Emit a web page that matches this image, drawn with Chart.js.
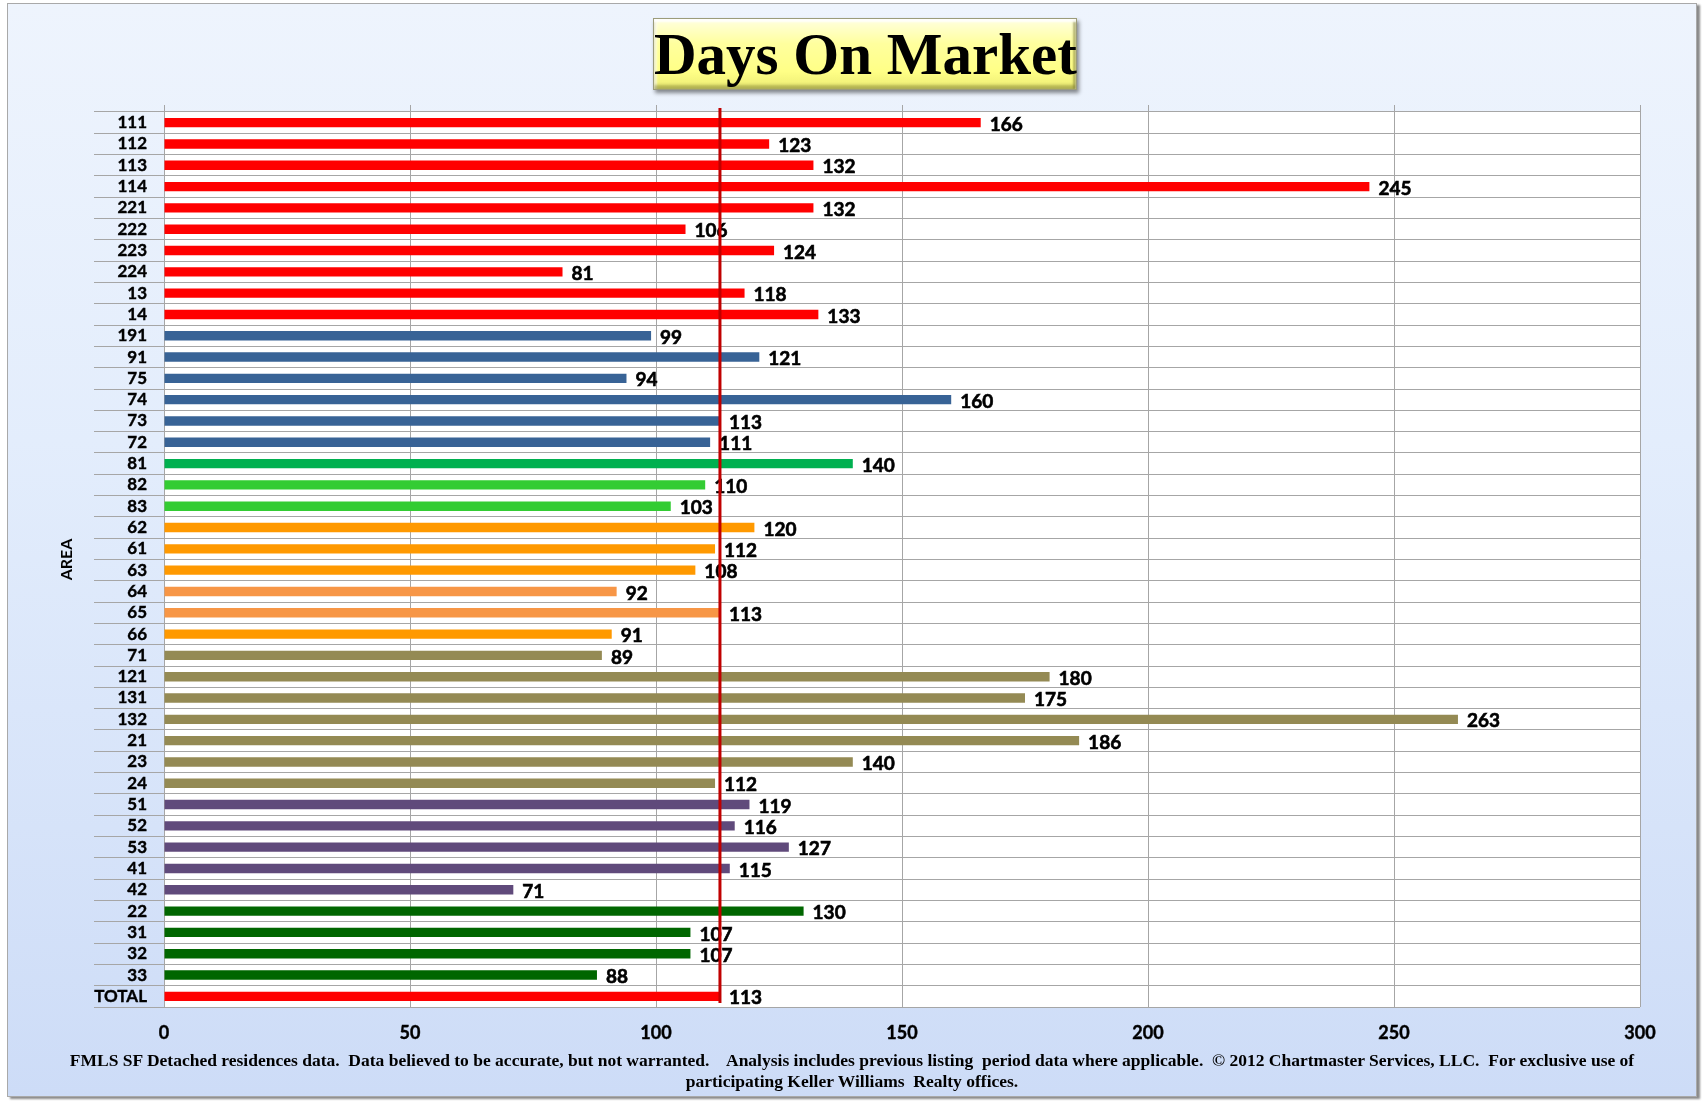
<!DOCTYPE html>
<html>
<head>
<meta charset="utf-8">
<title>Days On Market</title>
<script src="https://cdn.jsdelivr.net/npm/chart.js@4.4.1/dist/chart.umd.min.js"></script>
<style>
    body {
        margin: 0;
        width: 1706px;
        height: 1101px;
        background: #ffffff;
        overflow: hidden;
        position: relative;
        font-family: Lato, "Open Sans", sans-serif;
    }
    #marco {
        position: absolute;
        left: 7px;
        top: 3px;
        width: 1688px;
        height: 1092px;
        border: 1px solid #a9a9a9;
        background: linear-gradient(to bottom, #eef4fd 0%, #e3edfc 40%, #cddcf7 100%);
        box-shadow: 3px 2px 2px #8a8a8a;
    }
    #grafico {
        position: absolute;
        left: 0;
        top: 0;
    }
    #titulo {
        position: absolute;
        left: 653px;
        top: 18px;
        width: 422px;
        height: 70px;
        border: 1px solid #9c9c7a;
        background: linear-gradient(to bottom, #ffffe0 0%, #ffff9e 35%, #ffff86 75%, #ecec74 100%);
        box-shadow: 2px 3px 4px rgba(0, 0, 0, 0.45),
                    inset 0 3px 2px rgba(255, 255, 255, 0.9),
                    inset 0 -4px 3px rgba(110, 110, 40, 0.45),
                    inset 3px 0 2px rgba(255, 255, 255, 0.6),
                    inset -3px 0 2px rgba(110, 110, 40, 0.45);
        text-align: center;
        font: bold 59px "Liberation Serif", serif;
        line-height: 70px;
        color: #000;
        white-space: nowrap;
    }
    #nota {
        position: absolute;
        left: 7px;
        top: 1050px;
        width: 1690px;
        text-align: center;
        font: bold 17.5px "Liberation Serif", serif;
        line-height: 21px;
        color: #000;
        white-space: pre;
    }
</style>
</head>
<body>
<div id="marco"></div>
<canvas id="grafico" width="1706" height="1101"></canvas>
<div id="titulo">Days On Market</div>
<div id="nota">FMLS SF Detached residences data.  Data believed to be accurate, but not warranted.    Analysis includes previous listing  period data where applicable.  © 2012 Chartmaster Services, LLC.  For exclusive use of
participating Keller Williams  Realty offices.</div>

<script>
    // areas, de arriba hacia abajo
    const areas = [
        '111', '112', '113', '114', '221', '222', '223', '224', '13', '14',
        '191', '91', '75', '74', '73', '72',
        '81', '82', '83',
        '62', '61', '63', '64', '65', '66',
        '71', '121', '131', '132', '21', '23', '24',
        '51', '52', '53', '41', '42',
        '22', '31', '32', '33',
        'TOTAL'
    ];

    const diasEnMercado = [
        166, 123, 132, 245, 132, 106, 124, 81, 118, 133,
        99, 121, 94, 160, 113, 111,
        140, 110, 103,
        120, 112, 108, 92, 113, 91,
        89, 180, 175, 263, 186, 140, 112,
        119, 116, 127, 115, 71,
        130, 107, 107, 88,
        113
    ];

    const marcasEje = [0, 50, 100, 150, 200, 250, 300];

    const ROJO = '#ff0000';
    const AZUL = '#386396';
    const VERDE = '#00b050';
    const VERDE_CLARO = '#33cc33';
    const NARANJA = '#ff9900';
    const NARANJA_CLARO = '#f79646';
    const OLIVA = '#948a54';
    const MORADO = '#604a7b';
    const VERDE_OSCURO = '#006600';

    const coloresBarras = [
        ROJO, ROJO, ROJO, ROJO, ROJO, ROJO, ROJO, ROJO, ROJO, ROJO,
        AZUL, AZUL, AZUL, AZUL, AZUL, AZUL,
        VERDE, VERDE_CLARO, VERDE_CLARO,
        NARANJA, NARANJA, NARANJA, NARANJA_CLARO, NARANJA_CLARO, NARANJA,
        OLIVA, OLIVA, OLIVA, OLIVA, OLIVA, OLIVA, OLIVA,
        MORADO, MORADO, MORADO, MORADO, MORADO,
        VERDE_OSCURO, VERDE_OSCURO, VERDE_OSCURO, VERDE_OSCURO,
        ROJO
    ];

    const promedioTotal = diasEnMercado[diasEnMercado.length - 1];

    // fondo blanco del area de trazado y las marcas cortas sobre el borde superior
    const fondoTrazado = {
        id: 'fondoTrazado',
        beforeDraw(chart) {
            const { ctx, chartArea } = chart;
            ctx.save();
            ctx.fillStyle = '#ffffff';
            ctx.fillRect(chartArea.left, chartArea.top, chartArea.width, chartArea.height);
            ctx.restore();
        },
        afterDraw(chart) {
            const { ctx, chartArea } = chart;
            const escalaX = chart.scales.x;
            ctx.save();
            ctx.strokeStyle = '#a6a6a6';
            ctx.lineWidth = 1;
            marcasEje.forEach(v => {
                const x = Math.round(escalaX.getPixelForValue(v)) + 0.5;
                ctx.beginPath();
                ctx.moveTo(x, chartArea.top - 7);
                ctx.lineTo(x, chartArea.top);
                ctx.stroke();
            });
            ctx.restore();
        }
    };

    // valores al final de cada barra y la linea del total
    const valoresYLinea = {
        id: 'valoresYLinea',
        afterDatasetsDraw(chart) {
            const { ctx, chartArea } = chart;
            const meta = chart.getDatasetMeta(0);

            ctx.save();
            ctx.font = 'bold 19px Lato';
            ctx.fillStyle = '#000000';
            ctx.strokeStyle = '#000000';
            ctx.lineWidth = 0.6;
            ctx.textAlign = 'left';
            ctx.textBaseline = 'middle';
            meta.data.forEach((barra, i) => {
                const texto = String(diasEnMercado[i]);
                ctx.fillText(texto, barra.x + 9, barra.y + 2);
                ctx.strokeText(texto, barra.x + 9, barra.y + 2);
            });

            const x = chart.scales.x.getPixelForValue(promedioTotal);
            ctx.strokeStyle = '#c00000';
            ctx.lineWidth = 3;
            ctx.beginPath();
            ctx.moveTo(x, chartArea.top - 4);
            ctx.lineTo(x, chartArea.bottom - 4);
            ctx.stroke();
            ctx.restore();
        }
    };

    const ctxGrafico = document.getElementById('grafico').getContext('2d');
    new Chart(ctxGrafico, {
        type: 'bar',
        data: {
            labels: areas,
            datasets: [{
                data: diasEnMercado,
                backgroundColor: coloresBarras,
                borderWidth: 0,
                barPercentage: 0.44,
                categoryPercentage: 1
            }]
        },
        options: {
            indexAxis: 'y',
            responsive: false,
            animation: false,
            devicePixelRatio: 1,
            layout: { padding: { top: 112, right: 66, bottom: 0, left: 0 } },
            plugins: {
                legend: { display: false },
                tooltip: { enabled: false }
            },
            scales: {
                x: {
                    min: 0,
                    max: 300,
                    afterBuildTicks: escala => {
                        escala.ticks = marcasEje.map(v => ({ value: v }));
                    },
                    afterFit: escala => { escala.height = 94; },
                    grid: { color: '#a6a6a6', drawTicks: false },
                    border: { display: false },
                    ticks: {
                        color: '#000000',
                        font: { family: 'Lato', size: 18, weight: 'bold' },
                        textStrokeColor: '#000000',
                        textStrokeWidth: 0.4,
                        padding: 15
                    }
                },
                y: {
                    afterFit: escala => { escala.width = 164; },
                    grid: { color: '#a6a6a6', offset: true, drawTicks: true, tickLength: 70 },
                    border: { display: false },
                    ticks: {
                        color: '#000000',
                        font: { family: 'Lato', size: 17, weight: 'bold' },
                        textStrokeColor: '#000000',
                        textStrokeWidth: 0.4,
                        padding: -53,
                        autoSkip: false
                    },
                    title: {
                        display: true,
                        text: 'AREA',
                        color: '#000000',
                        font: { family: 'Lato', size: 16, weight: 'bold' },
                        padding: { top: 57, bottom: 0 }
                    }
                }
            }
        },
        plugins: [fondoTrazado, valoresYLinea]
    });
</script>
</body>
</html>
